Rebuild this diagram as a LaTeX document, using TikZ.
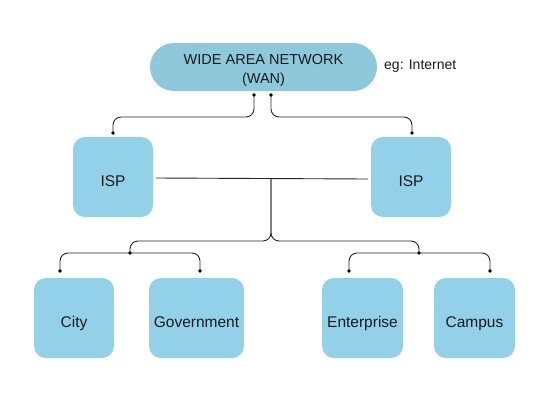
\documentclass[tikz,border=0pt]{standalone}
\usepackage{fontspec}
\setmainfont{Liberation Sans}
\definecolor{wanfill}{HTML}{8DC9DA}
\definecolor{boxfill}{HTML}{93D1E8}
\definecolor{txt}{HTML}{1A1A1A}
\begin{document}
\begin{tikzpicture}[x=1pt,y=-1pt,
  box/.style={draw=none,fill=boxfill,rounded corners=12pt,minimum width=80pt,minimum height=80pt,inner sep=0pt,font=\fontsize{15.5}{18}\selectfont,text=txt,text height=19.5pt,text depth=0pt},
  conn/.style={draw=black!85,line width=0.9pt,rounded corners=8pt},
  dotc/.style={circle,fill=black,inner sep=0pt,minimum size=3.6pt}]
\useasboundingbox (0,0) rectangle (550,400);
\fill[white] (0,0) rectangle (550,400);
\node[draw=none,fill=wanfill,rounded corners=24pt,minimum width=227pt,minimum height=48pt,inner sep=0pt] (wan) at (263.5,67) {};
\node[align=center,font=\fontsize{14.5}{19}\selectfont,text=txt,inner sep=0pt] (wantext) at ([yshift=-3pt]wan.center) {WIDE AREA NETWORK\\(WAN)};
\node[anchor=west,font=\fontsize{14}{16}\selectfont,text=txt,inner sep=0pt] (eg) at (384,66) {eg: Internet};
\node[box] (isp1) at (113,177) {ISP};
\node[box] (isp2) at (411,177) {ISP};
\node[box] (city) at (74,318) {City};
\node[box,minimum width=95pt] (gov) at (196.5,318) {Government};
\node[box,minimum width=81pt] (ent) at (362.5,318) {Enterprise};
\node[box,minimum width=81pt] (cam) at (474.5,318) {Campus};
% WAN to ISPs
\coordinate (w1) at (254,95);
\coordinate (w2) at (271,95);
\coordinate (i1) at (113,133);
\coordinate (i2) at (412,133);
\draw[conn] (w1) -- (254,117) -- (113,117) -- (i1);
\draw[conn] (w2) -- (271,117) -- (412,117) -- (i2);
\node[dotc] at (w1) {}; \node[dotc] at (w2) {};
\node[dotc] at (i1) {}; \node[dotc] at (i2) {};
% ISP link
\coordinate (a1) at (156,178);
\coordinate (a2) at (368,179);
\coordinate (mid) at (271,178.5);
\draw[conn] (a1) -- (a2);
% brace
\coordinate (bl) at (130,253);
\coordinate (br) at (419,253);
\draw[conn] (mid) -- (271,241) -- (130,241) -- (bl);
\draw[conn] (mid) -- (271,241) -- (419,241) -- (br);
\node[dotc] at (bl) {}; \node[dotc] at (br) {};
% lower left
\coordinate (c1) at (60,271);
\coordinate (c2) at (200,271);
\draw[conn] (bl) -- (60,253) -- (c1);
\draw[conn] (bl) -- (200,253) -- (c2);
\node[dotc] at (c1) {}; \node[dotc] at (c2) {};
% lower right
\coordinate (e1) at (349,271);
\coordinate (e2) at (490,271);
\draw[conn] (br) -- (349,253) -- (e1);
\draw[conn] (br) -- (490,253) -- (e2);
\node[dotc] at (e1) {}; \node[dotc] at (e2) {};
\end{tikzpicture}
\end{document}
